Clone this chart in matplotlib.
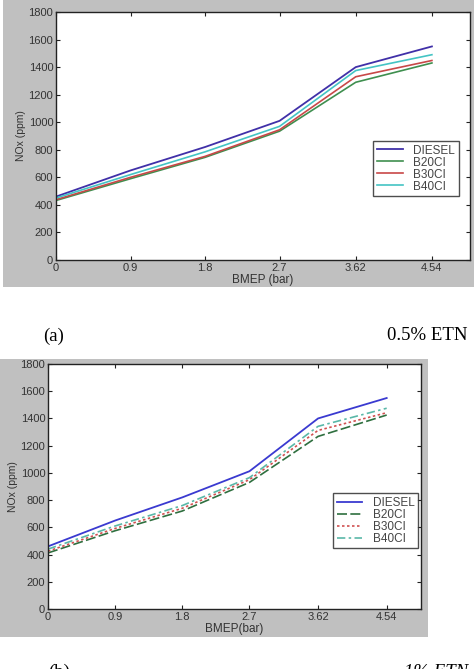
import matplotlib
matplotlib.use("Agg")
import matplotlib.pyplot as plt
from matplotlib.patches import Rectangle

plt.rcParams['font.family'] = ['Liberation Sans', 'DejaVu Sans']

bmep = [0, 0.9, 1.8, 2.7, 3.62, 4.54]
xtick_labels = ['0', '0.9', '1.8', '2.7', '3.62', '4.54']
series_names = ['DIESEL', 'B20CI', 'B30CI', 'B40CI']

# (a) 0.5% ETN
a_diesel = [460, 650, 820, 1010, 1400, 1550]
a_b20 = [432, 590, 745, 935, 1290, 1430]
a_b30 = [438, 600, 752, 945, 1330, 1448]
a_b40 = [450, 620, 785, 970, 1375, 1490]

# (b) 1% ETN
b_diesel = [460, 650, 820, 1012, 1400, 1550]
b_b20 = [412, 575, 720, 930, 1268, 1425]
b_b30 = [425, 592, 740, 950, 1312, 1442]
b_b40 = [440, 610, 760, 965, 1342, 1475]

W, H = 477, 669
fig = plt.figure(figsize=(W / 100, H / 100), dpi=100)
gray = '#c0c0c0'

def frac_rect(x0, y0, x1, y1):
    return [x0 / W, 1 - y1 / H, (x1 - x0) / W, (y1 - y0) / H]

# gray panels
r = frac_rect(3, 0, 474, 287)
fig.patches.append(Rectangle((r[0], r[1]), r[2], r[3], transform=fig.transFigure,
                             facecolor=gray, edgecolor='none', zorder=-10))
r = frac_rect(0, 359, 428, 637)
fig.patches.append(Rectangle((r[0], r[1]), r[2], r[3], transform=fig.transFigure,
                             facecolor=gray, edgecolor='none', zorder=-10))

colors = ['#4030a8', '#3f8f4f', '#c84848', '#44c4c4']
colors_b = ['#3a3ad0', '#2f6f3f', '#d05050', '#5ab8a8']

def setup(ax, xlabel):
    ax.set_xlim(0, 5)
    ax.set_ylim(0, 1800)
    ax.set_xticks(bmep)
    ax.set_xticklabels(xtick_labels)
    ax.set_yticks(range(0, 1801, 200))
    ax.tick_params(direction='in', top=True, right=True, labelsize=8,
                   length=3, width=0.8, colors='#222222', labelcolor='#333333', pad=2)
    for s in ax.spines.values():
        s.set_linewidth(1.0)
        s.set_color('#222222')
    ax.set_xlabel(xlabel, fontsize=8.5, labelpad=1, color='#333333')
    ax.set_ylabel('NOx (ppm)', fontsize=7.5, labelpad=2, color='#333333')

def add_legend(ax, anchor):
    leg = ax.legend(loc='upper left', bbox_to_anchor=anchor, fontsize=8.5,
                    frameon=True, fancybox=False, edgecolor='#222222', handlelength=2.2,
                    borderpad=0.3, labelspacing=0.0, handletextpad=0.9, borderaxespad=0)
    leg.get_frame().set_linewidth(1.0)
    for t in leg.get_texts():
        t.set_color('#444444')
    return leg

# top axes
ax1 = fig.add_axes(frac_rect(56, 12, 470, 260))
ax1.plot(bmep, a_diesel, color=colors[0], lw=1.3, label=series_names[0])
ax1.plot(bmep, a_b20, color=colors[1], lw=1.2, label=series_names[1])
ax1.plot(bmep, a_b30, color=colors[2], lw=1.2, label=series_names[2])
ax1.plot(bmep, a_b40, color=colors[3], lw=1.2, label=series_names[3])
setup(ax1, 'BMEP (bar)')
add_legend(ax1, (0.766, 0.48))

# bottom axes
ax2 = fig.add_axes(frac_rect(48, 364, 421, 609))
ax2.plot(bmep, b_diesel, color=colors_b[0], lw=1.3, ls='-', label=series_names[0])
ax2.plot(bmep, b_b20, color=colors_b[1], lw=1.2, ls=(0, (6, 2)), label=series_names[1])
ax2.plot(bmep, b_b30, color=colors_b[2], lw=1.2, ls=(0, (1.5, 1.5)), label=series_names[2])
ax2.plot(bmep, b_b40, color=colors_b[3], lw=1.2, ls=(0, (5, 2, 1.5, 2)), label=series_names[3])
setup(ax2, 'BMEP(bar)')
add_legend(ax2, (0.764, 0.473))

# captions
serif = ['Liberation Serif', 'DejaVu Serif']
fig.text(43 / W, 1 - 336 / H, '(a)', fontsize=13.5, family=serif, va='center', ha='left')
fig.text(468 / W, 1 - 336 / H, '0.5% ETN', fontsize=13.5, family=serif, va='center', ha='right')
fig.text(48 / W, 1 - 664 / H, '(b)', fontsize=13.5, family=serif, va='top', ha='left')
fig.text(468 / W, 1 - 664 / H, '1% ETN', fontsize=13.5, family=serif, va='top', ha='right',
         style='italic')

fig.savefig('out.png', dpi=100)
